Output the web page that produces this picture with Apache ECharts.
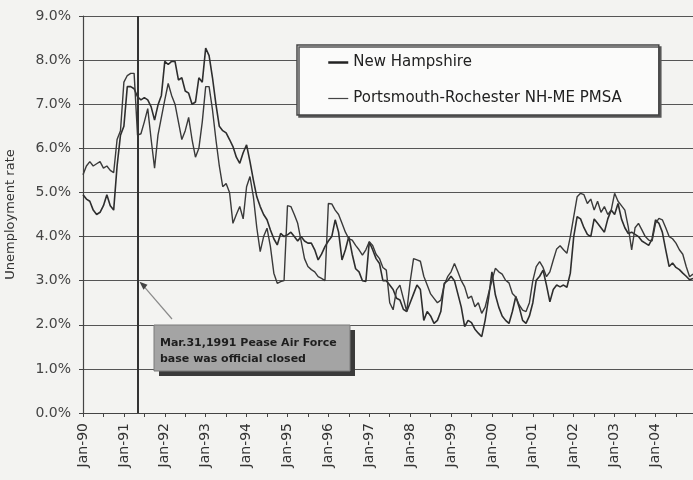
<!DOCTYPE html>
<html>
<head>
<meta charset="utf-8">
<script src="https://cdn.jsdelivr.net/npm/echarts@6/dist/echarts.min.js"></script>
<style>
html,body{margin:0;padding:0;background:#f3f3f1;}
#chart{width:693px;height:480px;}
</style>
</head>
<body>
<div id="chart"></div>
<script>
// ---- data ----
const years = ['90','91','92','93','94','95','96','97','98','99','00','01','02','03','04'];
const monthNames = ['Jan','Feb','Mar','Apr','May','Jun','Jul','Aug','Sep','Oct','Nov','Dec'];
const seriesNames = ['New Hampshire', 'Portsmouth-Rochester NH-ME PMSA'];
const yTicks = [0, 1, 2, 3, 4, 5, 6, 7, 8, 9];

// New Hampshire, monthly, % (Jan-90 .. Dec-04)
const newHampshire = [
  4.95, 4.85, 4.80, 4.60, 4.50, 4.55, 4.70, 4.95, 4.70, 4.60, 5.60, 6.30, // 1990
  6.50, 7.40, 7.40, 7.35, 7.17, 7.10, 7.15, 7.10, 6.94, 6.64, 6.98, 7.20, // 1991
  7.97, 7.90, 7.97, 7.97, 7.55, 7.60, 7.30, 7.25, 7.00, 7.05, 7.60, 7.50, // 1992
  8.27, 8.10, 7.60, 7.00, 6.50, 6.40, 6.35, 6.20, 6.04, 5.80, 5.66, 5.90, // 1993
  6.08, 5.70, 5.28, 4.90, 4.68, 4.50, 4.38, 4.15, 3.95, 3.81, 4.07, 4.00, // 1994
  4.04, 4.10, 4.00, 3.90, 4.00, 3.90, 3.85, 3.85, 3.70, 3.47, 3.60, 3.77, // 1995
  3.90, 4.00, 4.38, 4.10, 3.47, 3.70, 4.00, 3.60, 3.27, 3.20, 3.00, 2.98, // 1996
  3.88, 3.70, 3.50, 3.39, 3.00, 3.00, 2.90, 2.80, 2.60, 2.56, 2.35, 2.30, // 1997
  2.50, 2.70, 2.90, 2.80, 2.10, 2.30, 2.20, 2.03, 2.10, 2.30, 2.94, 3.00, // 1998
  3.10, 3.00, 2.70, 2.40, 1.96, 2.10, 2.05, 1.90, 1.81, 1.73, 2.10, 2.60, // 1999
  3.20, 2.68, 2.40, 2.20, 2.10, 2.03, 2.30, 2.64, 2.40, 2.10, 2.03, 2.20, // 2000
  2.50, 3.01, 3.10, 3.24, 2.90, 2.52, 2.80, 2.90, 2.86, 2.90, 2.85, 3.17, // 2001
  4.00, 4.45, 4.40, 4.20, 4.05, 4.00, 4.40, 4.30, 4.20, 4.10, 4.40, 4.60, // 2002
  4.50, 4.75, 4.40, 4.20, 4.07, 4.10, 4.05, 4.00, 3.90, 3.85, 3.80, 3.95, // 2003
  4.38, 4.30, 4.10, 3.70, 3.32, 3.40, 3.30, 3.25, 3.17, 3.10, 3.02, 3.05  // 2004
];

// Portsmouth-Rochester NH-ME PMSA, monthly, %
const portsmouth = [
  5.40, 5.60, 5.70, 5.60, 5.65, 5.70, 5.55, 5.60, 5.50, 5.45, 6.20, 6.40, // 1990
  7.50, 7.65, 7.70, 7.70, 6.30, 6.33, 6.60, 6.90, 6.20, 5.55, 6.30, 6.70, // 1991
  7.10, 7.47, 7.20, 7.00, 6.60, 6.20, 6.40, 6.70, 6.20, 5.80, 6.00, 6.60, // 1992
  7.40, 7.40, 6.87, 6.20, 5.60, 5.13, 5.20, 5.00, 4.30, 4.50, 4.68, 4.40, // 1993
  5.13, 5.36, 4.90, 4.20, 3.66, 4.00, 4.19, 3.77, 3.17, 2.94, 2.98, 3.00, // 1994
  4.70, 4.68, 4.50, 4.30, 3.90, 3.50, 3.32, 3.25, 3.20, 3.09, 3.05, 3.00, // 1995
  4.75, 4.74, 4.60, 4.50, 4.30, 4.10, 3.95, 3.92, 3.80, 3.70, 3.58, 3.70, // 1996
  3.88, 3.80, 3.60, 3.50, 3.30, 3.24, 2.50, 2.34, 2.79, 2.90, 2.60, 2.30, // 1997
  2.98, 3.50, 3.47, 3.44, 3.10, 2.90, 2.70, 2.60, 2.50, 2.56, 2.90, 3.09, // 1998
  3.20, 3.39, 3.20, 3.00, 2.86, 2.60, 2.65, 2.41, 2.50, 2.26, 2.40, 2.71, // 1999
  3.00, 3.28, 3.20, 3.15, 3.01, 2.95, 2.71, 2.63, 2.45, 2.33, 2.30, 2.50, // 2000
  3.00, 3.32, 3.43, 3.30, 3.09, 3.20, 3.47, 3.72, 3.79, 3.70, 3.62, 4.00, // 2001
  4.45, 4.90, 4.98, 4.95, 4.75, 4.85, 4.60, 4.80, 4.55, 4.68, 4.50, 4.60, // 2002
  4.98, 4.80, 4.70, 4.60, 4.22, 3.70, 4.20, 4.30, 4.15, 4.00, 3.92, 3.90, // 2003
  4.30, 4.41, 4.38, 4.20, 4.00, 3.95, 3.85, 3.70, 3.60, 3.32, 3.09, 3.15  // 2004
];

const annotationLines = ['Mar.31,1991 Pease Air Force', 'base was official closed'];
const closureIndex = 15.5;   // position of the Pease closure marker on the month axis
const closureArrowValue = 3.0;

// ---- build ----
const categories = [];
years.forEach(y => monthNames.forEach(m => categories.push(m + '-' + y)));

const FONT = 'DejaVu Sans';
const chart = echarts.init(document.getElementById('chart'), null, {renderer: 'canvas'});
const hidden = {color: 'rgba(0,0,0,0)', borderColor: 'rgba(0,0,0,0)', borderWidth: 0, opacity: 0};

const option = {
  backgroundColor: '#f3f3f1',
  animation: false,
  grid: {left: 83, right: 0, top: 16, bottom: 67, containLabel: false, outerBoundsMode: 'none'},
  legend: {
    orient: 'vertical',
    left: 297, top: 45,
    padding: [10, 37, 9, 30],
    itemWidth: 20, itemHeight: 14, itemGap: 21,
    backgroundColor: '#fbfbfa',
    borderColor: '#444', borderWidth: 1.5,
    shadowColor: '#555', shadowBlur: 0, shadowOffsetX: 2, shadowOffsetY: 2,
    textStyle: {fontFamily: FONT, fontSize: 15, color: '#222'},
    data: [
      {name: seriesNames[0], itemStyle: hidden, lineStyle: {color: '#222', width: 2.5}},
      {name: seriesNames[1], itemStyle: hidden, lineStyle: {color: '#444', width: 1.2}}
    ]
  },
  xAxis: {
    type: 'category',
    data: categories,
    boundaryGap: false,
    axisLine: {lineStyle: {color: '#444', width: 1.2}},
    axisTick: {interval: 5, length: 4, lineStyle: {color: '#444'}},
    axisLabel: {
      interval: 11, rotate: 90, margin: 10,
      fontFamily: FONT, fontSize: 14, color: '#333'
    },
    splitLine: {show: false}
  },
  yAxis: {
    type: 'value',
    min: yTicks[0], max: yTicks[yTicks.length - 1], interval: 1,
    name: 'Unemployment rate',
    nameLocation: 'middle', nameGap: 66,
    nameTextStyle: {fontFamily: FONT, fontSize: 13, color: '#333'},
    axisLine: {show: true, lineStyle: {color: '#444', width: 1.2}},
    axisTick: {show: true, length: 4, lineStyle: {color: '#444'}},
    axisLabel: {
      margin: 12, fontFamily: FONT, fontSize: 14, color: '#444',
      formatter: v => v.toFixed(1) + '%'
    },
    splitLine: {show: true, lineStyle: {color: '#555', width: 1}}
  },
  series: [
    {
      name: seriesNames[0], type: 'line', data: newHampshire,
      symbol: 'none', itemStyle: {color: '#2e2e2e'},
      lineStyle: {color: '#2e2e2e', width: 1.6},
      markLine: {
        silent: true, symbol: 'none',
        label: {show: false},
        lineStyle: {color: '#333', width: 2, type: 'solid'},
        data: [{xAxis: closureIndex}]
      }
    },
    {
      name: seriesNames[1], type: 'line', data: portsmouth,
      symbol: 'none', itemStyle: {color: '#3a3a3a'},
      lineStyle: {color: '#3a3a3a', width: 1.4}
    }
  ]
};
chart.setOption(option);

// annotation callout, with its arrow pointing at the closure date
const tip = chart.convertToPixel({xAxisIndex: 0, yAxisIndex: 0}, [closureIndex, closureArrowValue]);
const box = {x: 154, y: 325, w: 196, h: 46};
chart.setOption({
  graphic: [
    {type: 'rect', shape: {x: box.x + 5, y: box.y + 5, width: box.w, height: box.h},
     style: {fill: '#3a3a3a'}, z: 10},
    {type: 'rect', shape: {x: box.x, y: box.y, width: box.w, height: box.h},
     style: {fill: '#a4a4a4', stroke: '#7a7a7a', lineWidth: 1}, z: 11},
    {type: 'text', x: box.x + 6, y: box.y + 10, z: 12,
     style: {text: annotationLines.join('\n'), fill: '#1e1e1e', font: 'bold 11px ' + FONT, lineHeight: 16}},
    {type: 'line', shape: {x1: box.x + 18, y1: box.y - 6, x2: tip[0] + 4, y2: tip[1] + 3},
     style: {stroke: '#8a8a8a', lineWidth: 1.2}, z: 12},
    {type: 'polygon', z: 12,
     shape: {points: [[tip[0] + 2, tip[1] + 1], [tip[0] + 10, tip[1] + 4], [tip[0] + 6, tip[1] + 9]]},
     style: {fill: '#444'}}
  ]
});
</script>
</body>
</html>
